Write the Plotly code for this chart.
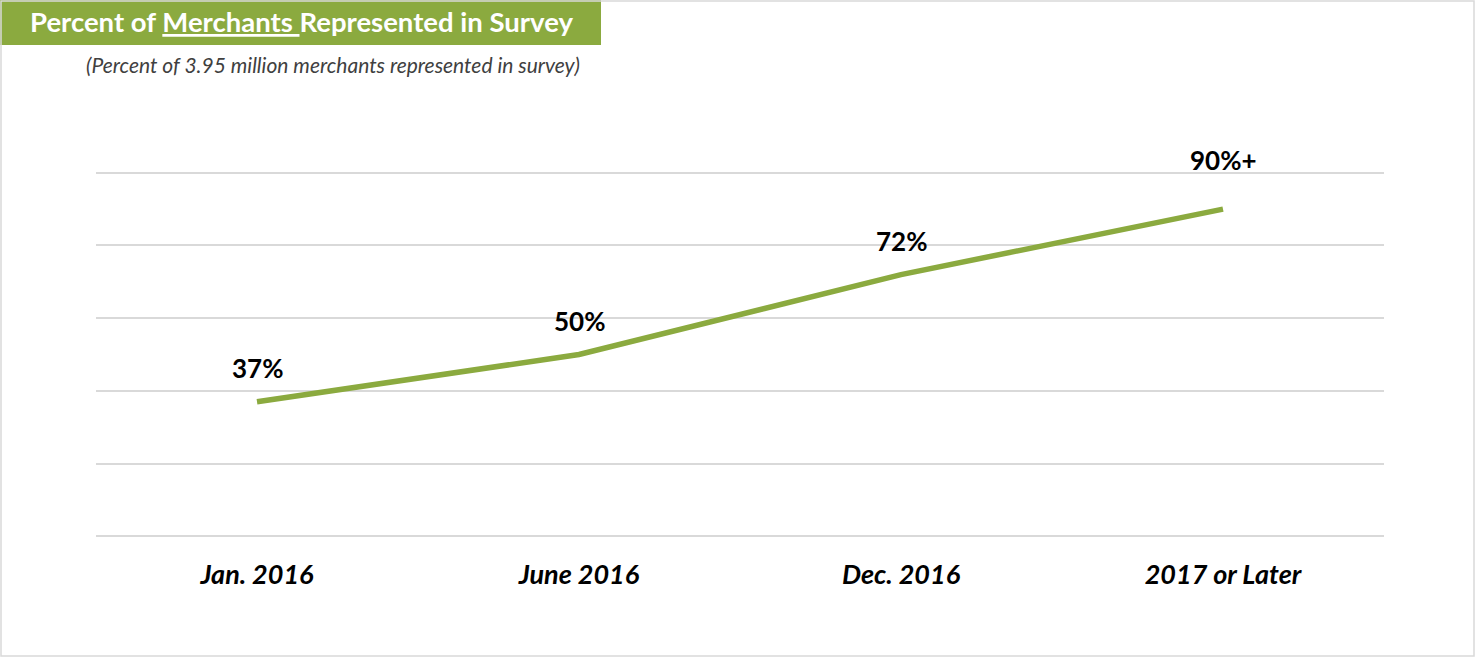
import plotly.graph_objects as go

categories = ["Jan. 2016", "June 2016", "Dec. 2016", "2017 or Later"]
values = [37, 50, 72, 90]
value_labels = ["37%", "50%", "72%", "90%+"]
label_shift = [34, 34, 34, 49]

W, H = 1475, 658
L, R, T, B = 96, 91, 171, 120
GREEN = "#8BAA3F"
FONT = "Lato"

def px(x):
    return (x - L) / (W - L - R)

def py(y):
    return (H - B - y) / (H - T - B)

fig = go.Figure()
fig.add_trace(go.Scatter(
    x=categories, y=values, mode="lines",
    line=dict(color=GREEN, width=5.5), hoverinfo="skip", showlegend=False,
))

annotations = []
for c, v, t, s in zip(categories, values, value_labels, label_shift):
    annotations.append(dict(x=c, y=v, text="<b>%s</b>" % t, showarrow=False,
                            yshift=s, font=dict(family=FONT, size=26, color="#000000")))

annotations.append(dict(xref="paper", yref="paper", x=px(28), y=py(22), xanchor="left",
                        yanchor="middle", showarrow=False,
                        text="<b>Percent of <u>Merchants </u>Represented in Survey</b>",
                        font=dict(family=FONT, size=27.5, color="#ffffff")))
annotations.append(dict(xref="paper", yref="paper", x=px(84), y=py(64), xanchor="left",
                        yanchor="middle", showarrow=False,
                        text="<i>(Percent of 3.95 million merchants represented in survey)</i>",
                        font=dict(family=FONT, size=21, color="#404040")))

shapes = [
    dict(type="rect", xref="paper", yref="paper", x0=px(0), x1=px(601), y0=py(45), y1=py(0),
         fillcolor=GREEN, line=dict(width=0), layer="below"),
    dict(type="rect", xref="paper", yref="paper", x0=px(1), x1=px(1474), y0=py(656), y1=py(1),
         fillcolor="rgba(0,0,0,0)", line=dict(color="#d9d9d9", width=1.5), layer="below"),
]

fig.update_layout(
    width=W, height=H,
    margin=dict(l=L, r=R, t=T, b=B),
    paper_bgcolor="#ffffff", plot_bgcolor="#ffffff",
    annotations=annotations, shapes=shapes,
    xaxis=dict(type="category", range=[-0.5, 3.5], showgrid=False, zeroline=False,
               showline=False, ticks="", ticklabelstandoff=18,
               tickfont=dict(family=FONT, size=27, color="#000000"),
               tickvals=categories,
               ticktext=["<b><i>%s</i></b>" % c for c in categories]),
    yaxis=dict(range=[-0.5, 100.5], tickvals=[0, 20, 40, 60, 80, 100], showticklabels=False,
               showgrid=True, gridcolor="#d9d9d9", gridwidth=1.5, zeroline=False,
               showline=False, fixedrange=True),
)

fig.write_html("out.html", config={"displayModeBar": False},
               post_script="document.body.style.margin='0';document.body.style.overflow='hidden';")
